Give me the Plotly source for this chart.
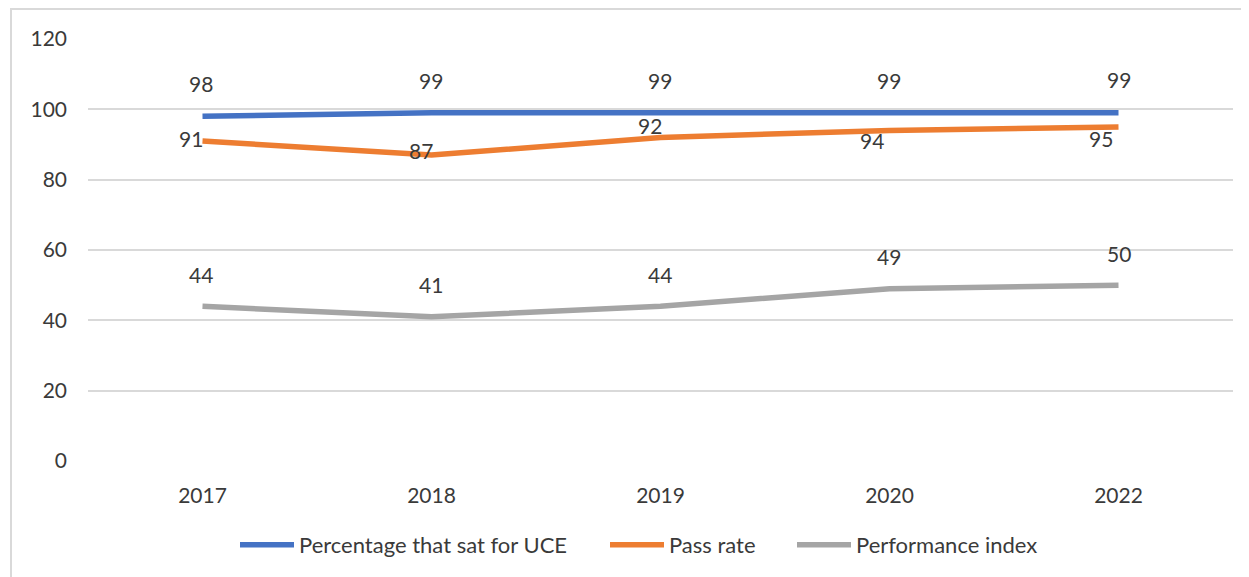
import plotly.graph_objects as go

# data
years = ["2017", "2018", "2019", "2020", "2022"]
sat_pct = [98, 99, 99, 99, 99]
pass_rate = [91, 87, 92, 94, 95]
perf_index = [44, 41, 44, 49, 50]

series_names = ["Percentage that sat for UCE", "Pass rate", "Performance index"]
colors = ["#4472C4", "#ED7D31", "#A5A5A5"]

# label offsets (px) to mimic the Excel data label placement
sat_shift = [(-2, 33), (-1, 32), (-1, 32), (-1, 32), (0, 33)]
pass_shift = [(-12, 2), (-11, 5), (-11, 12), (-18, -10), (-18, -12)]
perf_shift = [(-2, 32), (-1, 32), (-1, 32), (-1, 32), (0, 32)]

# left edge (px) of each legend entry
legend_left = [235, 605, 792]

FONT = "Lato, Carlito, 'Open Sans', sans-serif"
TXT = "#3a3a3a"
PLOT_L, PLOT_W = 88, 1145

fig = go.Figure()
legend_ids = ["legend", "legend2", "legend3"]
for name, vals, col, lg in zip(series_names, [sat_pct, pass_rate, perf_index], colors, legend_ids):
    fig.add_trace(go.Scatter(
        x=years, y=vals, mode="lines", name=name,
        line=dict(color=col, width=5.5),
        hoverinfo="x+y+name", legend=lg,
    ))

annotations = []
for vals, shifts in [(sat_pct, sat_shift), (pass_rate, pass_shift), (perf_index, perf_shift)]:
    for i, (v, (dx, dy)) in enumerate(zip(vals, shifts)):
        annotations.append(dict(
            x=i, y=v, xref="x", yref="y", text=str(v), showarrow=False,
            xshift=dx, yshift=dy,
            font=dict(family=FONT, size=21, color=TXT),
        ))

legends = {}
for lg, left in zip(legend_ids, legend_left):
    legends[lg] = dict(
        orientation="h", x=(left - PLOT_L) / PLOT_W, xanchor="left",
        y=-0.196, yanchor="middle", itemwidth=54,
        font=dict(family=FONT, size=22, color=TXT),
        bgcolor="rgba(0,0,0,0)",
    )

# page body has an 8px margin, so the figure is sized to fit the window
fig.update_layout(
    width=1241, height=569,
    margin=dict(l=80, r=16, t=31, b=115),
    paper_bgcolor="white", plot_bgcolor="white",
    font=dict(family=FONT, size=21, color=TXT),
    showlegend=True,
    xaxis=dict(
        type="category", range=[-0.5, 4.5], showgrid=False, zeroline=False,
        showline=False, ticks="", ticklabelstandoff=20,
        tickfont=dict(family=FONT, size=21, color=TXT),
    ),
    yaxis=dict(
        range=[0, 120], tickvals=[0, 20, 40, 60, 80, 100, 120],
        showgrid=True, gridcolor="#D9D9D9", gridwidth=2, zeroline=False,
        showline=False, ticks="", ticklabelstandoff=20,
        tickfont=dict(family=FONT, size=21, color=TXT),
    ),
    annotations=annotations,
    shapes=[dict(
        type="rect", xref="paper", yref="paper",
        x0=(11 - PLOT_L) / PLOT_W, x1=(1270 - PLOT_L) / PLOT_W,
        y0=(462 - 600) / 423, y1=1 + (39 - 9) / 423,
        line=dict(color="#D9D9D9", width=2), layer="below",
    )],
    **legends,
)

fig.write_html("out.html")
